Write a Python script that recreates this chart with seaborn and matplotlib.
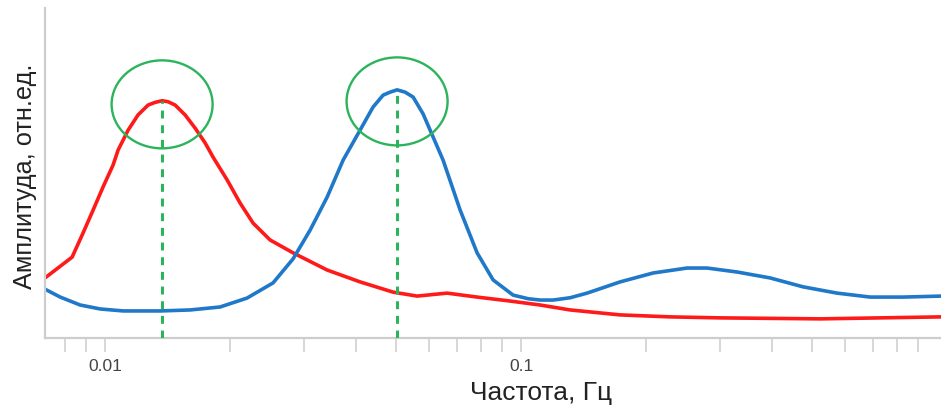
import numpy as np
import pandas as pd
import matplotlib
matplotlib.use("Agg")
import matplotlib.pyplot as plt
import matplotlib.ticker as mticker
from matplotlib.patches import Ellipse
import seaborn as sns

# red spectrum (frequency, Hz / relative amplitude)
red_f = [0.00717, 0.00833, 0.00885, 0.00936, 0.00989, 0.01045, 0.01075, 0.01136,
         0.01200, 0.01269, 0.01319, 0.01371, 0.01417, 0.01473, 0.01557, 0.01646,
         0.01740, 0.01818, 0.01965, 0.02111, 0.02269, 0.02493, 0.02831, 0.03418,
         0.04102, 0.04924, 0.05623, 0.06638, 0.07839, 0.09410, 0.1111, 0.1312,
         0.1730, 0.2281, 0.3009, 0.5233, 1.022]
red_a = [0.182, 0.245, 0.318, 0.388, 0.458, 0.524, 0.570, 0.630,
         0.676, 0.706, 0.714, 0.719, 0.716, 0.706, 0.676, 0.636,
         0.591, 0.548, 0.479, 0.409, 0.348, 0.297, 0.258, 0.206,
         0.170, 0.139, 0.127, 0.136, 0.124, 0.112, 0.100, 0.085,
         0.070, 0.064, 0.061, 0.058, 0.064]

# blue spectrum
blue_f = [0.00717, 0.00780, 0.00871, 0.00973, 0.01105, 0.01356, 0.01601, 0.01890,
          0.02194, 0.02534, 0.02831, 0.03111, 0.03418, 0.03734, 0.04102, 0.04408,
          0.04660, 0.04843, 0.05034, 0.05264, 0.05502, 0.05814, 0.06494, 0.07135,
          0.07839, 0.08565, 0.09568, 0.1040, 0.1111, 0.1194, 0.1312, 0.1441,
          0.1730, 0.2077, 0.2506, 0.2800, 0.3305, 0.3969, 0.4764, 0.5749,
          0.6903, 0.8285, 1.022]
blue_a = [0.148, 0.124, 0.100, 0.088, 0.082, 0.082, 0.085, 0.094,
          0.121, 0.167, 0.240, 0.327, 0.427, 0.539, 0.630, 0.700,
          0.736, 0.745, 0.752, 0.745, 0.730, 0.679, 0.539, 0.388,
          0.258, 0.176, 0.130, 0.119, 0.115, 0.115, 0.122, 0.136,
          0.170, 0.197, 0.212, 0.212, 0.200, 0.182, 0.155, 0.136,
          0.124, 0.124, 0.127]

# marked peaks: (freq, amplitude), ellipse centre sits a bit below the peak
peak_f = [0.01371, 0.05034]
peak_a = [0.719, 0.752]
ell_a = [0.708, 0.717]

x_ticks = [0.01, 0.1]
x_ticklabels = ["0.01", "0.1"]

RED = "#ff1a1a"
BLUE = "#1f78c8"
GREEN = "#2bb45c"
GREY = "#cdcdcd"

sns.set_style("white")
plt.rcParams["font.family"] = ["Liberation Sans", "DejaVu Sans"]

df_red = pd.DataFrame({"f": red_f, "a": red_a})
df_blue = pd.DataFrame({"f": blue_f, "a": blue_a})

fig = plt.figure(figsize=(9.41, 4.07), dpi=100)
ax = fig.add_axes([45 / 941, 69 / 407, 896 / 941, 330 / 407])

sns.lineplot(data=df_red, x="f", y="a", ax=ax, color=RED, lw=2.6, sort=False)
sns.lineplot(data=df_blue, x="f", y="a", ax=ax, color=BLUE, lw=2.6, sort=False)

ax.set_xscale("log")
ax.set_xlim(0.00717, 1.022)
ax.set_ylim(0, 1)

# dashed markers down from each peak
ax.vlines(peak_f, 0, peak_a, colors=GREEN, lw=2.2, linestyles=(0, (2.6, 2.2)), zorder=3)

for f, a in zip(peak_f, ell_a):
    cx, cy = ax.transAxes.inverted().transform(ax.transData.transform((f, a)))
    ax.add_patch(Ellipse((cx, cy), 101 / 896, 88 / 330, transform=ax.transAxes,
                         fill=False, ec=GREEN, lw=1.7, zorder=4))

ax.xaxis.set_major_locator(mticker.FixedLocator(x_ticks))
ax.xaxis.set_major_formatter(mticker.FixedFormatter(x_ticklabels))
ax.xaxis.set_minor_locator(mticker.LogLocator(base=10, subs=np.arange(2, 10)))
ax.xaxis.set_minor_formatter(mticker.NullFormatter())
ax.tick_params(axis="x", which="both", bottom=True, direction="out", length=10,
               width=1.1, color=GREY, labelsize=12.5, labelcolor="#444444", pad=5)
ax.set_yticks([])

for s in ["top", "right"]:
    ax.spines[s].set_visible(False)
for s in ["left", "bottom"]:
    ax.spines[s].set_color(GREY)
    ax.spines[s].set_linewidth(1.6)

ax.set_xlabel("Частота, Гц", fontsize=19, color="#222222")
ax.xaxis.set_label_coords(0.554, -0.13)
ax.set_ylabel("Амплитуда, отн.ед.", fontsize=18.3, color="#222222")
ax.yaxis.set_label_coords(-0.009, 0.49)

fig.savefig("out.png", dpi=100)
